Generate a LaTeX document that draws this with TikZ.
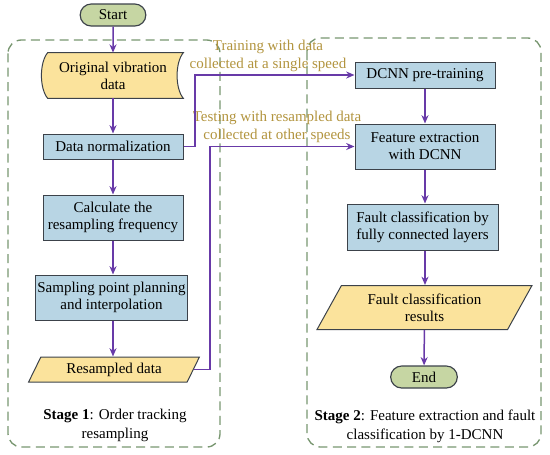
\documentclass[tikz,border=0pt]{standalone}
\usepackage{fontspec}
\setmainfont{Liberation Serif}
\usetikzlibrary{arrows.meta,calc,shapes.geometric,shapes.misc}

\definecolor{termfill}{RGB}{198,214,163}
\definecolor{procfill}{RGB}{184,213,228}
\definecolor{iofill}{RGB}{251,227,156}
\definecolor{flowline}{RGB}{104,58,168}
\definecolor{framecol}{RGB}{120,150,112}
\definecolor{labcol}{RGB}{178,148,62}
\definecolor{edgecol}{RGB}{60,66,74}

\tikzset{
  base/.style={font=\fontsize{9}{10.2}\selectfont, align=center, inner sep=1pt},
  term/.style={base, draw=edgecol, fill=termfill, line width=0.7pt,
    rounded rectangle, minimum height=13.2pt},
  proc/.style={base, draw=edgecol, fill=procfill, line width=0.6pt,
    rectangle, minimum width=84pt},
  io/.style={base, draw=edgecol, fill=iofill, line width=0.6pt,
    trapezium, trapezium stretches=true},
  stored/.style={base, minimum width=84pt, minimum height=27pt},
  storedline/.style={draw=edgecol, fill=iofill, line width=0.6pt},
  flow/.style={flowline, line width=0.9pt, -{Stealth[length=5pt,width=4.2pt]}},
  stageframe/.style={framecol, line width=0.8pt, dash pattern=on 5.4pt off 3.2pt,
    rounded corners=8pt},
  speedlab/.style={base, text=labcol, font=\fontsize{9}{10.8}\selectfont},
  stagelab/.style={base, font=\fontsize{9}{11.2}\selectfont}
}

\begin{document}
\begin{tikzpicture}[x=0.6pt, y=-0.6pt]
  \useasboundingbox (0,0) rectangle (550,454);

  % === Stage frames ===
  \draw[stageframe] (8,40) rectangle (220,447);
  \draw[stageframe] (307,38) rectangle (541,447);

  % === Stage 1: order tracking resampling ===
  \node[term, minimum width=41.4pt] (start) at (113,15) {Start};
  % stored-data shape round the first text
  \node[stored] (orig) at (113,75.5) {};
  \path[storedline] ([xshift=3pt]orig.north west) -- (orig.north east)
    .. controls +(-5pt,-6pt) and +(-5pt,6pt) .. (orig.south east)
    -- ([xshift=3pt]orig.south west)
    .. controls +(-5pt,6pt) and +(-5pt,-6pt) .. ([xshift=3pt]orig.north west) -- cycle;
  \node[base] (origtxt) at (orig) {Original vibration\\data};
  \node[proc, minimum height=15pt] (norm) at (113,146.5) {Data normalization};
  \node[proc, minimum height=27pt] (calc) at (113,217.5) {Calculate the\\resampling frequency};
  \node[proc, minimum height=27pt, minimum width=89.4pt] (samp) at (111.5,297.5)
    {Sampling point planning\\and interpolation};
  \node[io, minimum width=103pt, minimum height=15pt,
    trapezium left angle=64, trapezium right angle=116] (resd) at (114,369.5) {Resampled data};
  \node[stagelab] (stg1) at (115,425.5) {\textbf{Stage 1}: Order tracking\\resampling};

  % === Stage 2: feature extraction and classification ===
  \node[proc, minimum height=15.6pt] (pre) at (425,75) {DCNN pre-training};
  \node[proc, minimum height=27pt] (feat) at (425,146.5) {Feature extraction\\with DCNN};
  \node[proc, minimum height=27.6pt, minimum width=90.6pt] (fcls) at (422.5,227)
    {Fault classification by\\fully connected layers};
  \node[io, minimum width=129pt, minimum height=26.4pt,
    trapezium left angle=61, trapezium right angle=119] (fres) at (424.5,307.5)
    {Fault classification\\results};
  \node[term, minimum width=42pt] (end) at (424,377) {End};
  \node[stagelab] (stg2) at (425,426) {\textbf{Stage 2}: Feature extraction and fault\\classification by 1-DCNN};

  % Speed labels
  \node[speedlab] (lab1) at (268,56) {Training with data\\collected at a single speed};
  \node[speedlab] (lab2) at (277,127) {Testing with resampled data\\collected at other speeds};

  % === Connectors ===
  \coordinate (j1) at (195,0);
  \coordinate (j2) at (210,0);
  \draw[flow] (start) -- (orig.north);
  \draw[flow] (orig.south) -- (norm);
  \draw[flow] (norm) -- (calc);
  \draw[flow] (calc) -- (norm |- samp.north);
  \draw[flow] (norm |- samp.south) -- (norm |- resd.north);
  \draw[flow] (norm.east) -| (j1 |- pre.west) -- (pre.west);
  \draw[flow] (resd.east) -| (j2 |- feat.west) -- (feat.west);
  \draw[flow] (pre) -- (feat);
  \draw[flow] (feat.south) -- (feat.south |- fcls.north);
  \draw[flow] (feat.south |- fcls.south) -- (feat.south |- fres.north);
  \draw[flow] (fres) -- (end);
\end{tikzpicture}
\end{document}
